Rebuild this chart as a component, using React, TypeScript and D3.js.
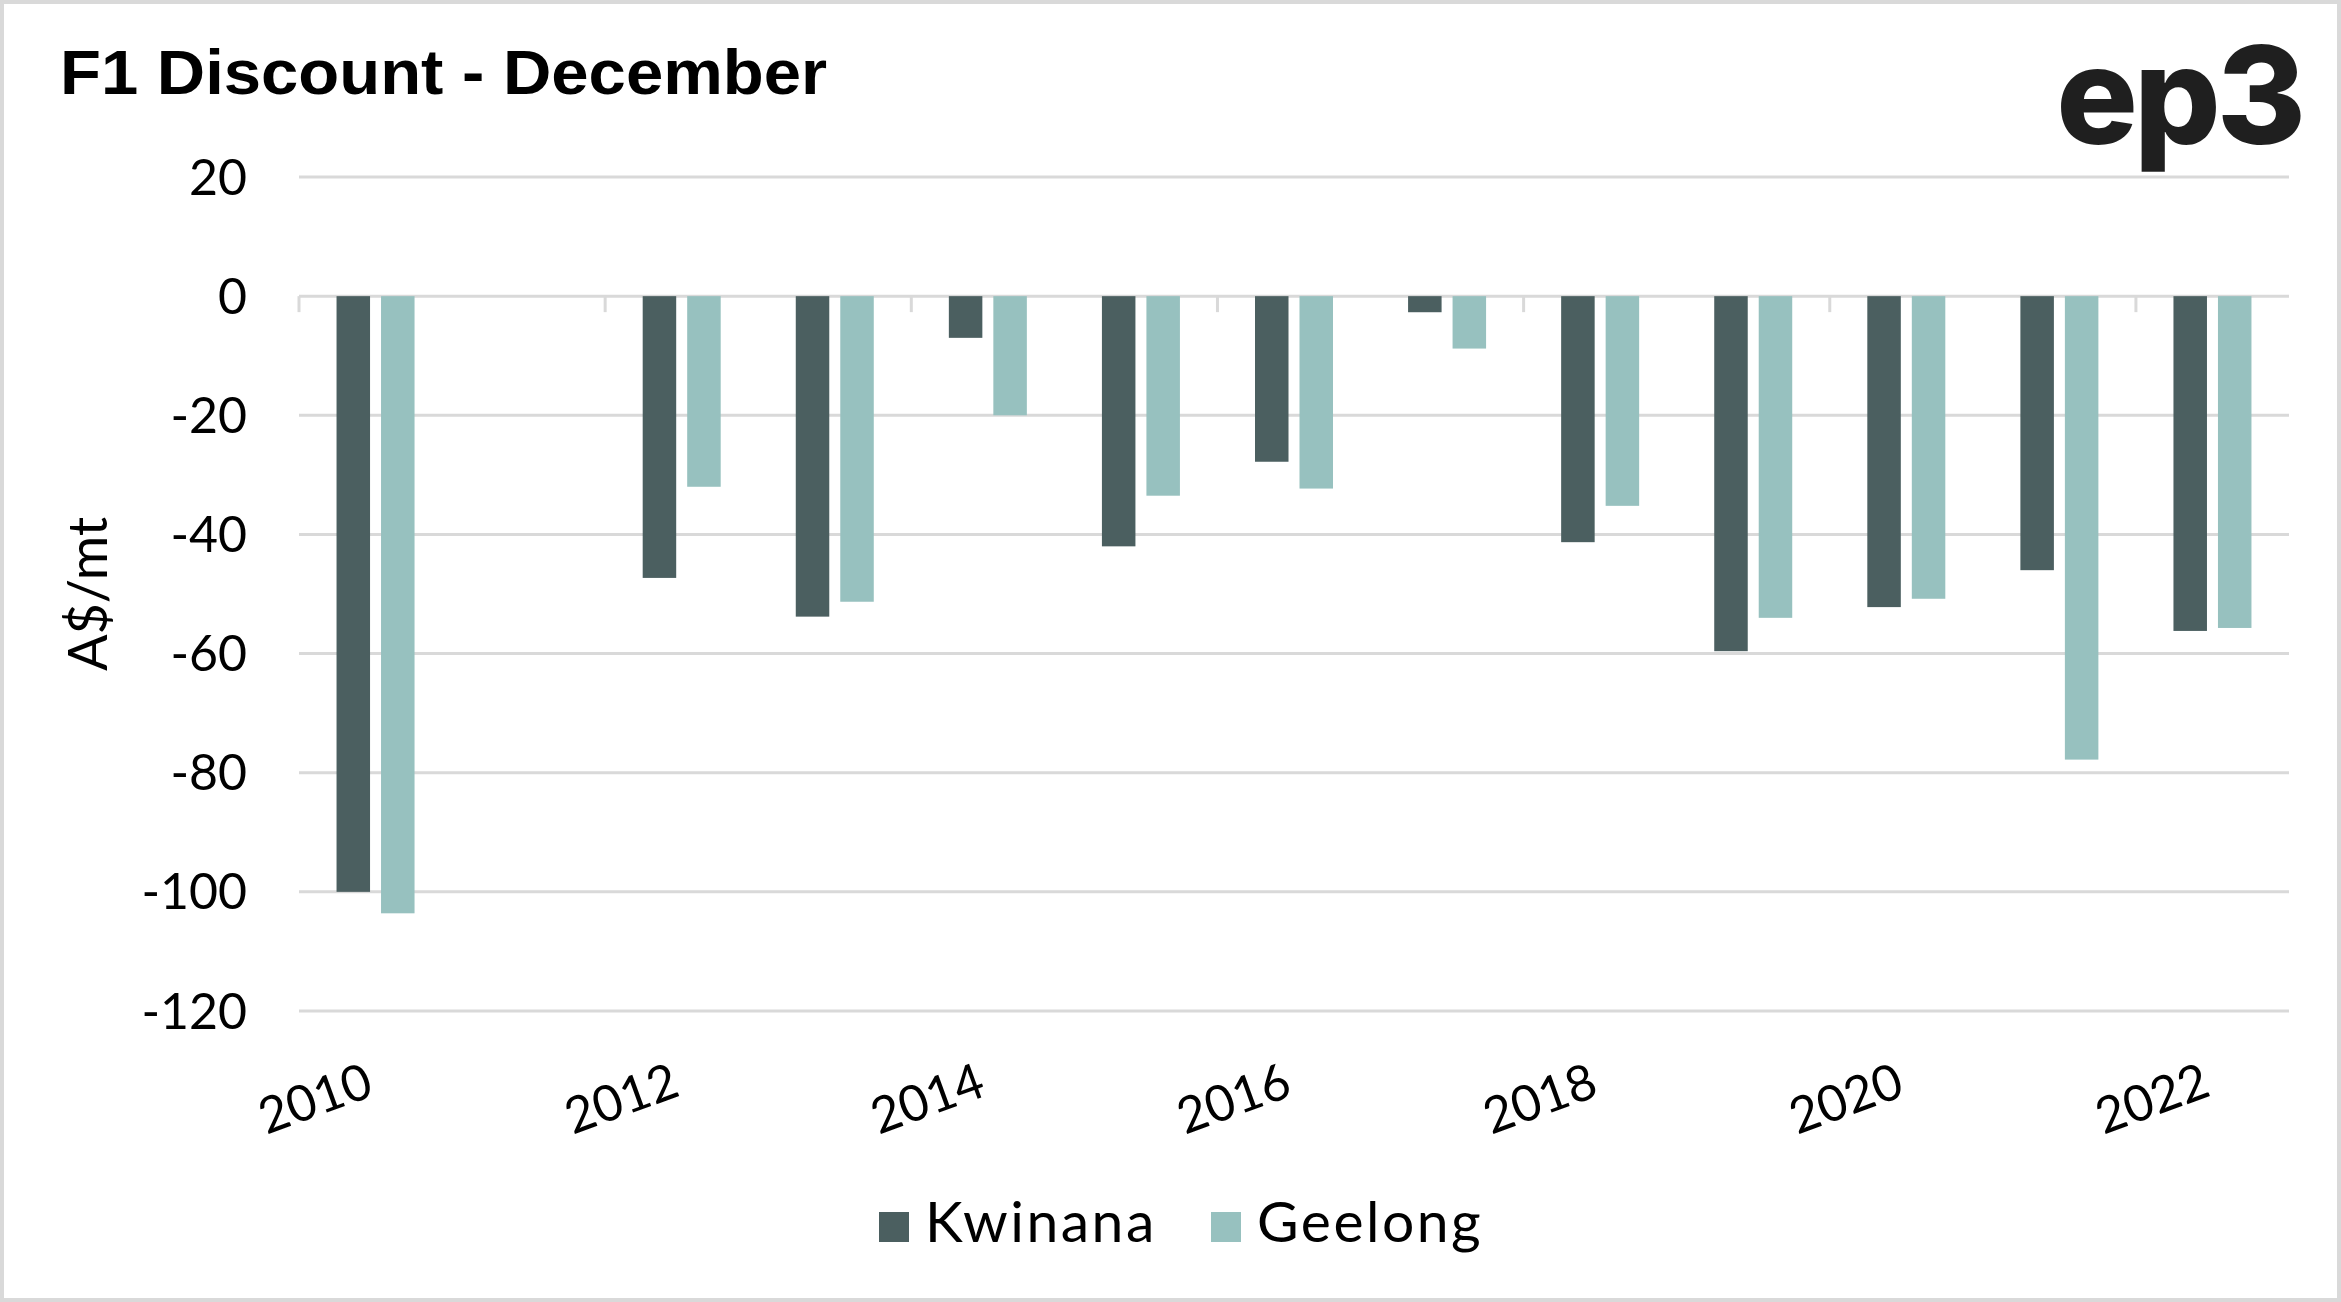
import * as d3 from "d3";

// --- data ---
const years = [
  "2010", "2011", "2012", "2013", "2014", "2015", "2016",
  "2017", "2018", "2019", "2020", "2021", "2022",
];
const kwinana = [-100, 0, -47.3, -53.8, -7, -42, -27.8, -2.7, -41.3, -59.6, -52.2, -46, -56.2];
const geelong = [-103.6, 0, -32, -51.3, -20, -33.5, -32.3, -8.8, -35.2, -54, -50.8, -77.8, -55.7];
const seriesNames = ["Kwinana", "Geelong"];
const yTicks = [20, 0, -20, -40, -60, -80, -100, -120];
const xLabelYears = ["2010", "2012", "2014", "2016", "2018", "2020", "2022"];

const W = 2341;
const H = 1302;

const PLOT = { left: 299, right: 2289, top: 177, bottom: 1011 };

const COLORS: Record<string, string> = {
  Kwinana: "#4b5f60",
  Geelong: "#97c1bf",
};

const GRID = "#d9d9d9";
const FONT = "Lato, 'Open Sans', sans-serif";

export default function App() {
  const x = d3.scaleBand<string>().domain(years).range([PLOT.left, PLOT.right]);
  // bars inside each year: 33.5px wide, 11px apart, centred
  const inner = (x.bandwidth() - 78) / 2;
  const x1 = d3
    .scaleBand<string>()
    .domain(seriesNames)
    .range([inner, inner + 78])
    .paddingInner(0.247);
  const y = d3.scaleLinear().domain([-120, 20]).range([PLOT.bottom, PLOT.top]);

  const values: Record<string, number[]> = { Kwinana: kwinana, Geelong: geelong };

  // tick marks every 2nd category boundary
  const tickIdx = d3.range(0, years.length, 2);

  return (
    <div style={{ position: "fixed", left: 0, top: 0 }}>
      <svg width={W} height={H} xmlns="http://www.w3.org/2000/svg">
        <rect x={0} y={0} width={W} height={H} fill="#fff" />
        <rect x={2} y={2} width={W - 4} height={H - 4} fill="none" stroke={GRID} strokeWidth={4} />

        <text
          x={60}
          y={94}
          fontFamily="'Liberation Sans', Arial, sans-serif"
          fontWeight="bold"
          fontSize={63}
          fill="#000"
          textLength={767}
          lengthAdjust="spacingAndGlyphs"
        >
          F1 Discount - December
        </text>

        <text
          x={2302}
          y={144}
          textAnchor="end"
          fontFamily="Inter, 'Open Sans', sans-serif"
          fontWeight={800}
          fontSize={136}
          letterSpacing={-4}
          fill="#1f1f1f"
        >
          ep3
        </text>

        {/* gridlines */}
        {yTicks.map((t) => (
          <line
            key={t}
            x1={PLOT.left}
            x2={PLOT.right}
            y1={y(t)}
            y2={y(t)}
            stroke={GRID}
            strokeWidth={3}
          />
        ))}

        {/* y labels */}
        {yTicks.map((t) => (
          <text
            key={"l" + t}
            x={247}
            y={y(t)}
            dy="0.35em"
            textAnchor="end"
            fontFamily={FONT}
            fontSize={50}
            fill="#000"
          >
            {t}
          </text>
        ))}

        <text
          transform={`translate(${107},${594}) rotate(-90)`}
          textAnchor="middle"
          fontFamily={FONT}
          fontSize={54}
          fill="#000"
        >
          A$/mt
        </text>

        {/* bars */}
        {years.map((yr, i) => (
          <g key={yr} transform={`translate(${x(yr)},0)`}>
            {seriesNames.map((s) => {
              const v = values[s][i];
              return (
                <rect
                  key={s}
                  x={x1(s)}
                  y={y(Math.max(0, v))}
                  width={x1.bandwidth()}
                  height={Math.abs(y(v) - y(0))}
                  fill={COLORS[s]}
                />
              );
            })}
          </g>
        ))}

        {/* category tick marks */}
        {tickIdx.map((i) => {
          const tx = x(years[i]) as number;
          return (
            <line
              key={"t" + i}
              x1={tx}
              x2={tx}
              y1={y(0)}
              y2={y(0) + 16}
              stroke={GRID}
              strokeWidth={3}
            />
          );
        })}

        {/* x labels */}
        {xLabelYears.map((yr) => {
          const cx = (x(yr) as number) + x.bandwidth() / 2;
          return (
            <text
              key={"x" + yr}
              transform={`translate(${cx},${1095}) rotate(-20)`}
              textAnchor="end"
              fontFamily={FONT}
              fontSize={50}
              fill="#000"
            >
              {yr}
            </text>
          );
        })}

        {/* legend */}
        {seriesNames.map((s, i) => {
          const lx = [879, 1211][i];
          return (
            <g key={"lg" + s}>
              <rect x={lx} y={1212} width={30} height={30} fill={COLORS[s]} />
              <text
                x={lx + 46}
                y={1242}
                fontFamily={FONT}
                fontSize={57}
                letterSpacing={2.5}
                fill="#000"
              >
                {s}
              </text>
            </g>
          );
        })}
      </svg>
    </div>
  );
}
